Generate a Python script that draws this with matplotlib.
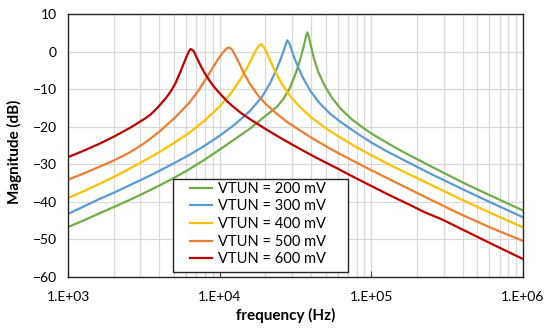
import matplotlib
matplotlib.use('Agg')
import matplotlib.pyplot as plt
from matplotlib.patches import Rectangle
from matplotlib.ticker import FixedLocator, LogLocator, NullFormatter

plt.rcParams['font.family'] = ['Lato', 'DejaVu Sans']

# values: frequency (Hz) and magnitude (dB)
labels = ['VTUN = 200 mV', 'VTUN = 300 mV', 'VTUN = 400 mV', 'VTUN = 500 mV', 'VTUN = 600 mV']
colors = ['#70AD47', '#5B9BD5', '#FFC000', '#ED7D31', '#C00000']

f200 = [1000, 1260, 1580, 2000, 2510, 3160, 3980, 5010, 6310, 7940, 10000, 12590,
        15850, 19950, 23990, 26300, 28840, 30900, 32360, 33880, 35080, 36310, 37150,
        37840, 38640, 39810, 41690, 44670, 48980, 54950, 63100, 74130, 89130, 100000,
        125900, 158500, 199500, 251200, 398100, 631000, 1000000]
db200 = [-46.7, -45.0, -43.2, -41.4, -39.6, -37.7, -35.7, -33.6, -31.3, -28.8, -26.1, -23.3,
         -20.5, -17.2, -14.6, -12.6, -9.9, -7.0, -4.8, -2.2, 0.0, 2.4, 4.1,
         5.1, 4.0, 1.8, -1.6, -5.4, -8.9, -12.3, -15.3, -18.0, -20.4, -21.8,
         -24.2, -26.5, -28.6, -30.7, -34.8, -38.6, -42.3]

f300 = [1000, 1260, 1580, 2000, 2510, 3160, 3980, 5010, 6310, 7940, 10000, 12590,
        15850, 19050, 21380, 23440, 25120, 26300, 27230, 27930, 28840, 29510, 30900,
        33110, 35480, 39810, 45710, 53700, 63100, 79430, 100000, 125900, 158500,
        251200, 398100, 631000, 1000000]
db300 = [-43.2, -41.3, -39.4, -37.6, -35.7, -33.8, -31.8, -29.7, -27.5, -25.1, -22.4, -19.4,
         -15.8, -12.0, -8.6, -5.2, -2.2, 0.0, 1.8, 3.0, 2.2, 1.0, -1.4,
         -4.4, -7.0, -10.6, -13.8, -16.6, -18.8, -21.6, -24.2, -26.5, -28.6,
         -32.7, -36.6, -40.4, -44.1]

f400 = [1000, 1260, 1580, 2000, 2510, 3160, 3980, 5010, 6310, 7940, 10000, 12020,
        13800, 15140, 16220, 17180, 17990, 18710, 19500, 20420, 21880, 23440, 25700,
        28840, 33110, 39810, 50120, 63100, 79430, 100000, 125900, 158500, 251200,
        398100, 631000, 1000000]
db400 = [-39.0, -37.2, -35.4, -33.4, -31.3, -29.1, -26.8, -24.3, -21.6, -18.4, -14.6, -10.8,
         -7.2, -4.4, -2.0, 0.0, 1.4, 2.0, 1.3, -0.3, -3.0, -5.6, -8.6,
         -11.6, -14.4, -17.4, -20.4, -23.0, -25.4, -27.6, -29.7, -31.7, -35.6,
         -39.5, -43.2, -46.8]

f500 = [1000, 1260, 1580, 2000, 2510, 3160, 3980, 5010, 6310, 7240, 8130, 8910,
        9770, 10470, 11090, 11560, 12020, 12590, 13490, 14450, 15850, 17780, 19950,
        22910, 27540, 33880, 39810, 50120, 63100, 79430, 100000, 158500, 251200,
        398100, 631000, 1000000]
db500 = [-34.1, -32.5, -30.8, -29.0, -27.0, -24.5, -21.4, -17.8, -13.6, -10.4, -7.2, -4.6,
         -2.0, -0.3, 0.8, 1.1, 0.6, -0.8, -3.2, -5.8, -8.6, -11.5, -13.8,
         -16.0, -18.6, -21.0, -22.8, -25.2, -27.4, -29.5, -31.6, -35.6, -39.6,
         -43.5, -47.1, -50.4]

f600 = [1000, 1285, 1618, 2037, 2564, 3228, 3540, 3882, 4457, 4775, 5117, 5610,
        6012, 6295, 6442, 6745, 7063, 7413, 7925, 8630, 9311, 10050, 11190, 12300,
        13770, 15850, 18150, 20420, 26240, 33810, 43550, 59020, 75680, 97950, 128500,
        175000, 228600, 289700, 482000, 644200, 1000000]
db600 = [-28.1, -26.3, -24.5, -22.5, -20.3, -17.8, -16.6, -15.0, -12.2, -10.5, -8.4, -4.6,
         -1.6, 0.2, 0.7, 0.1, -1.6, -3.4, -5.6, -7.9, -9.7, -11.2, -13.2, -14.7,
         -16.3, -18.0, -19.5, -20.8, -23.4, -25.9, -28.3, -31.0, -33.3, -35.6, -38.0,
         -40.6, -42.9, -44.6, -49.0, -51.5, -55.2]

freqs = [f200, f300, f400, f500, f600]
mags = [db200, db300, db400, db500, db600]

fig = plt.figure(figsize=(5.5, 3.3), dpi=100)
ax = fig.add_axes([68 / 550, 1 - 277 / 330, 455 / 550, 263 / 330])

for f, m, c, lab in zip(freqs, mags, colors, labels):
    ax.plot(f, m, color=c, lw=1.6, label=lab, solid_joinstyle='round')

ax.set_xscale('log')
ax.set_xlim(1e3, 1e6)
ax.set_ylim(-60, 10)
ax.yaxis.set_major_locator(FixedLocator(range(-60, 11, 10)))
ax.xaxis.set_major_locator(FixedLocator([1e3, 1e4, 1e5, 1e6]))
ax.xaxis.set_minor_locator(LogLocator(base=10, subs=range(2, 10)))
ax.xaxis.set_minor_formatter(NullFormatter())
ax.set_xticklabels(['1.E+03', '1.E+04', '1.E+05', '1.E+06'])

ax.grid(True, which='major', color='#d9d9d9', lw=0.9)
ax.grid(True, which='minor', axis='x', color='#d9d9d9', lw=0.9)
ax.set_axisbelow(True)

ax.tick_params(axis='x', which='major', direction='in', length=4, labelsize=10,
               pad=10, color='#404040')
ax.tick_params(axis='x', which='minor', length=0)
ax.tick_params(axis='y', length=0, labelsize=10, pad=8)
for s in ax.spines.values():
    s.set_color('#262626')
    s.set_linewidth(1.0)

ax.set_xlabel('frequency (Hz)', fontsize=11, fontweight='bold')
ax.set_ylabel('Magnitude (dB)', fontsize=11, fontweight='bold')
ax.xaxis.set_label_coords(0.479, -0.118)
ax.yaxis.set_label_coords(-0.10, 0.475)

# legend box drawn as its own frame, entries placed inside it
ax.add_patch(Rectangle((0.2308, 0.019), 0.3846, 0.3536, transform=ax.transAxes,
                       facecolor='white', edgecolor='#262626', lw=1.0, zorder=5))
leg = ax.legend(loc='upper left', bbox_to_anchor=(0.268, 0.362), borderaxespad=0,
                fontsize=10.5, frameon=False, handlelength=1.5, handletextpad=0.45,
                labelspacing=0.25, borderpad=0)
leg.set_zorder(6)

fig.savefig('out.png', dpi=100)
